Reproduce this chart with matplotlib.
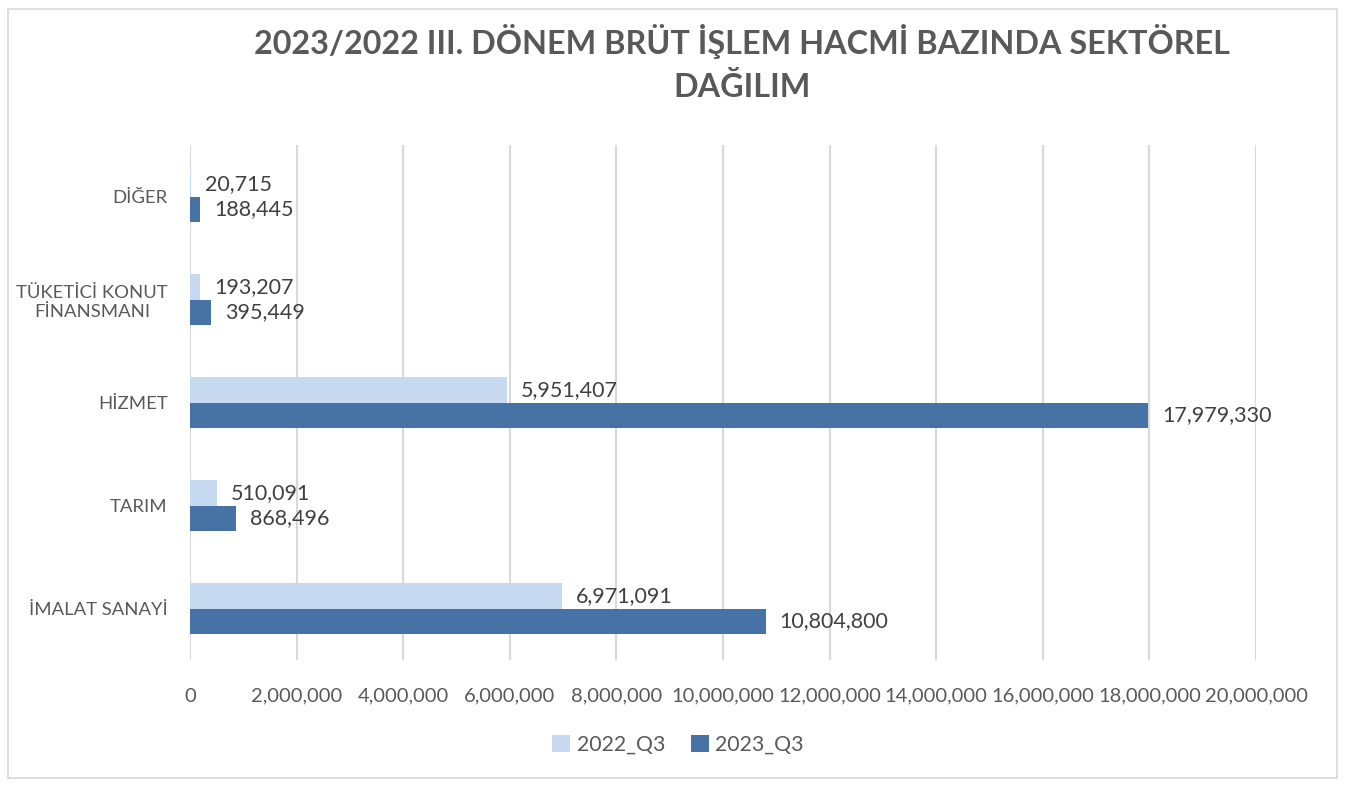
import numpy as np
import matplotlib.pyplot as plt
from matplotlib.patches import Rectangle

# veriler
kategoriler = ["İMALAT SANAYİ", "TARIM", "HİZMET", "TÜKETİCİ KONUT\nFİNANSMANI", "DİĞER"]
q3_2022 = [6971091, 510091, 5951407, 193207, 20715]
q3_2023 = [10804800, 868496, 17979330, 395449, 188445]
seri_adlari = ["2022_Q3", "2023_Q3"]

renk_acik = "#C6D9F0"
renk_koyu = "#4672A6"
gri = "#595959"

plt.rcParams['font.family'] = ['Lato', 'DejaVu Sans']

fig = plt.figure(figsize=(13.54, 7.87), dpi=100)
ax = fig.add_axes([190 / 1354, 1 - 660 / 787, (1256 - 190) / 1354, (660 - 145) / 787])

# dış çerçeve
fig.patches.append(Rectangle((8 / 1354, 9 / 787), 1329 / 1354, 769 / 787, transform=fig.transFigure,
                             fill=False, edgecolor="#D9D9D9", linewidth=1.2))

y = np.arange(len(kategoriler))
h = 0.245
b1 = ax.barh(y + h / 2, q3_2022, height=h, color=renk_acik, label=seri_adlari[0], zorder=3)
b2 = ax.barh(y - h / 2, q3_2023, height=h, color=renk_koyu, label=seri_adlari[1], zorder=3)

for bars in (b1, b2):
    for r in bars:
        w = r.get_width()
        ax.annotate(f"{w:,.0f}", (w, r.get_y() + r.get_height() / 2), xytext=(10, 0),
                    textcoords="offset points", va="center", ha="left", fontsize=15.5, color="#404040")

ax.set_xlim(0, 20000000)
ax.set_ylim(-0.5, len(kategoriler) - 0.5)
ax.set_xticks(np.arange(0, 20000001, 2000000))
ax.xaxis.set_major_formatter(plt.FuncFormatter(lambda v, p: f"{v:,.0f}"))
ax.set_yticks(y)
ax.set_yticklabels(kategoriler)
ax.tick_params(axis="both", length=0, colors=gri)
ax.tick_params(axis="x", pad=20, labelsize=14.5)
ax.tick_params(axis="y", pad=16, labelsize=13.3)
for lbl in ax.get_yticklabels():
    lbl.set_multialignment("center")
ax.grid(axis="x", color="#D9D9D9", linewidth=1.5, zorder=0)
for s in ax.spines.values():
    s.set_visible(False)

fig.text(742 / 1354, 1 - 63 / 787, "2023/2022 III. DÖNEM BRÜT İŞLEM HACMİ BAZINDA SEKTÖREL\nDAĞILIM",
         ha="center", va="center", fontsize=23.3, fontweight="bold", color=gri, linespacing=1.55)

fig.legend(handles=[b1, b2], labels=seri_adlari, loc="center", bbox_to_anchor=(678 / 1354, 1 - 745 / 787),
           ncol=2, frameon=False, fontsize=15.3, labelcolor=gri, handlelength=0.85, handleheight=0.85,
           handletextpad=0.3, columnspacing=1.2)

fig.savefig("out.png", dpi=100)
